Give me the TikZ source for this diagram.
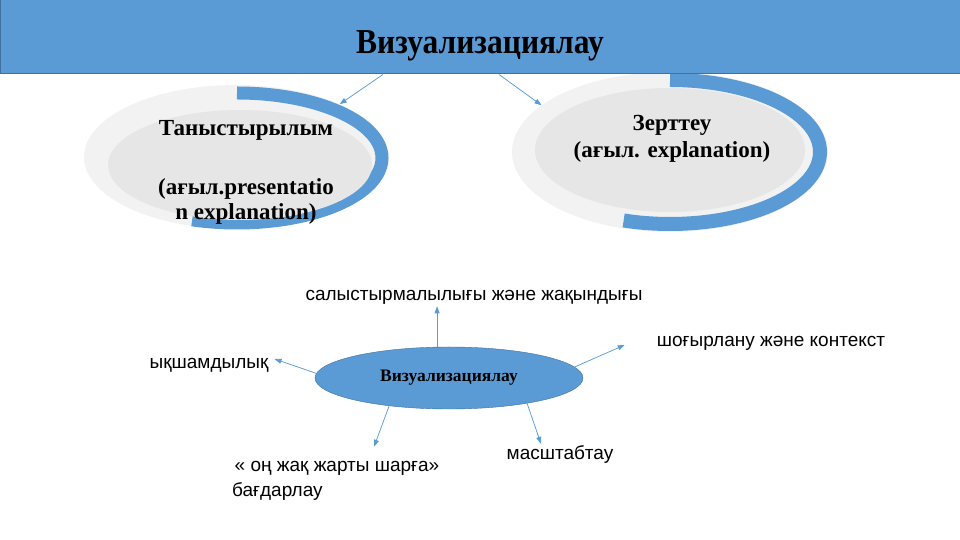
\documentclass[tikz,border=0pt]{standalone}
\usepackage{graphicx}
\usepackage{fontspec}
\setmainfont{Liberation Serif}
\newfontfamily\labelfont{Liberation Sans}
\usetikzlibrary{shapes.geometric,arrows.meta,calc}
\definecolor{vizblue}{HTML}{5B9BD5}
\definecolor{vizline}{HTML}{41719C}
\definecolor{ringgray}{HTML}{F2F2F2}
\definecolor{coregray}{HTML}{E6E6E6}

\begin{document}
\begin{tikzpicture}[x=1pt,y=1pt,
  ring/.style={ellipse,fill=ringgray,inner sep=0pt},
  core/.style={ellipse,fill=coregray,inner sep=0pt},
  band/.style={draw=vizblue,line width=13pt},
  link/.style={draw=vizblue,line width=0.75pt,-{Triangle[length=7pt,width=5pt]}},
  item/.style={font=\labelfont\fontsize{19}{24}\selectfont,inner sep=2pt},
  boxtext/.style={align=center}]

\useasboundingbox (0,0) rectangle (960,540);

% left oval
\node[ring,minimum width=304,minimum height=144] (tanO) at (236,383) {};
\draw[band] (237,447) arc[start angle=90,end angle=-108,x radius=145,y radius=65];
\node[core,minimum width=264,minimum height=110] (tan) at (240,375) {};
\node[boxtext,font=\bfseries\fontsize{23}{25}\selectfont] (tanT) at (246,368)
  {Таныстырылым\\[34pt](ағыл.presentatio\\n explanation)};

% right oval
\node[ring,minimum width=316,minimum height=160] (zerO) at (670,388) {};
\draw[band,line width=14pt] (670,460) arc[start angle=90,end angle=-108,x radius=150,y radius=72];
\node[core,minimum width=270,minimum height=124] (zer) at (670,390) {};
\node[boxtext,font=\bfseries\fontsize{23}{27}\selectfont] (zerT) at (672,401)
  {Зерттеу\\(ағыл. explanation)};

% header
\node[draw=vizline,fill=vizblue,line width=1pt,inner sep=0pt,
  minimum width=960,minimum height=74] (header) at (480,503) {};
\node[anchor=base,font=\bfseries\fontsize{35}{40}\selectfont] (title) at (480,486)
  {\scalebox{0.9}[1]{Визуализациялау}};

\draw[link] ($(header.south)+(-97,0)$) -- (tanO.27);
\draw[link] ($(header.south)+(19,0)$) -- (zerO.160);

% centre and its labels
\node[ellipse,draw=vizline,fill=vizblue,inner sep=0pt,minimum width=268,minimum height=62,
  font=\bfseries\fontsize{17.5}{20}\selectfont] (viz) at (449,162) {Визуализациялау};

\node[item] (sal) at (474,243) {салыстырмалылығы және жақындығы};
\node[item] (sho) at (771,197) {шоғырлану және контекст};
\node[item] (yq) at (209,175) {ықшамдылық};
\node[item] (mas) at (560,85) {масштабтау};
\node[item] (on) at (337,72) {« оң жақ жарты шарға»};
\node[item,anchor=west] (bag) at (230,48) {бағдарлау};

\draw[link] (viz.111) -- (viz.111 |- sal.south);
\draw[link] (viz.178) -- ($(yq.east)+(4,6)$);
\draw[link] (viz.5) -- ($(sho.west)+(-30,-2)$);
\draw[link] (viz.205) -- ($(on.north)+(37,12)$);
\draw[link] (viz.342) -- ($(mas.north)+(-19,0)$);

\end{tikzpicture}
\end{document}
